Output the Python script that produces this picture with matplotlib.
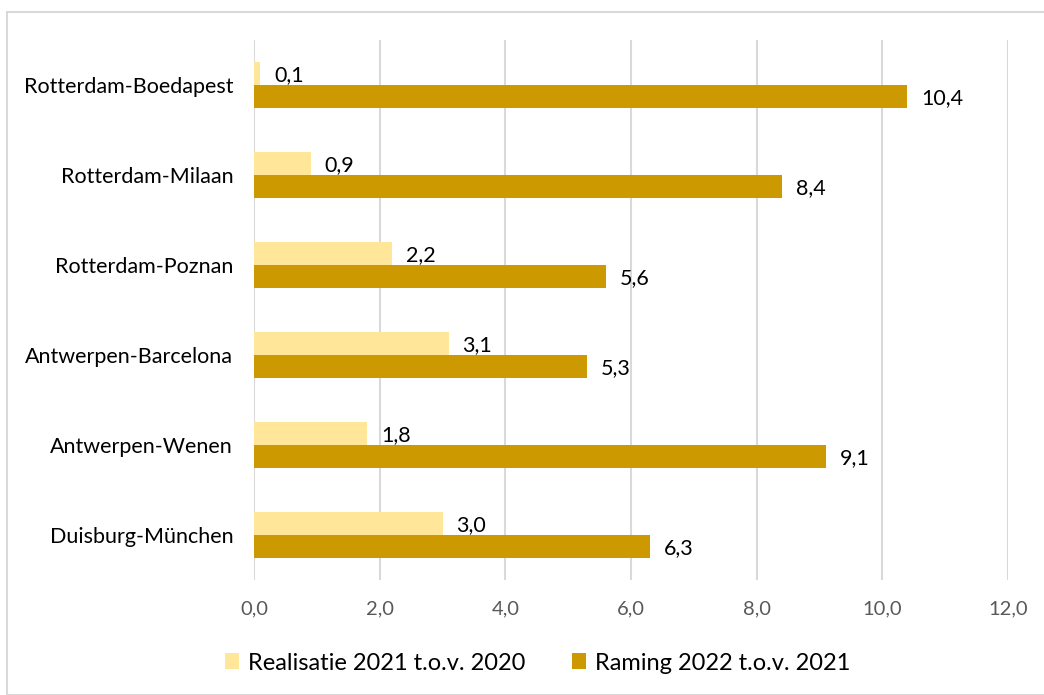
import matplotlib.pyplot as plt
import numpy as np
from matplotlib.patches import Rectangle

# corridors, top to bottom
routes = ['Rotterdam-Boedapest', 'Rotterdam-Milaan', 'Rotterdam-Poznan',
          'Antwerpen-Barcelona', 'Antwerpen-Wenen', 'Duisburg-München']
realisatie = [0.1, 0.9, 2.2, 3.1, 1.8, 3.0]
raming = [10.4, 8.4, 5.6, 5.3, 9.1, 6.3]
xticks = [0, 2, 4, 6, 8, 10, 12]

light = '#FFE699'
gold = '#CC9900'

plt.rcParams['font.family'] = ['Lato', 'DejaVu Sans']

fig = plt.figure(figsize=(10.44, 6.95), dpi=100)
ax = fig.add_axes([254 / 1044, 1 - 580 / 695, 754 / 1044, 540 / 695])

# outer frame
fig.patches.append(Rectangle((7 / 1044, 0), 1.1, 1 - 12 / 695, transform=fig.transFigure,
                             fill=False, edgecolor='#D9D9D9', linewidth=1.5))

y = np.arange(len(routes))
h = 0.255
b1 = ax.barh(y - h / 2, realisatie, height=h, color=light, label='Realisatie 2021 t.o.v. 2020')
b2 = ax.barh(y + h / 2, raming, height=h, color=gold, label='Raming 2022 t.o.v. 2021')

for bars, vals in ((b1, realisatie), (b2, raming)):
    for bar, v in zip(bars, vals):
        ax.text(v + 0.22, bar.get_y() + bar.get_height() / 2 + 0.02,
                f'{v:.1f}'.replace('.', ','), va='center', ha='left',
                fontsize=15.5, color='#000000')

ax.set_ylim(len(routes) - 0.5, -0.5)
ax.set_xlim(0, 12)
ax.set_yticks(y)
ax.set_yticklabels(routes, fontsize=15.5, color='#000000')
ax.set_xticks(xticks)
ax.set_xticklabels([f'{t:.1f}'.replace('.', ',') for t in xticks], fontsize=14.5, color='#595959')
ax.tick_params(axis='x', length=0, pad=15)
ax.tick_params(axis='y', length=0, pad=15)

ax.grid(axis='x', color='#D9D9D9', linewidth=1.5)
ax.set_axisbelow(True)
for s in ax.spines.values():
    s.set_visible(False)

fig.legend(handles=[b1, b2], loc='center', bbox_to_anchor=(0.515, 1 - 663 / 695),
           ncol=2, frameon=False, fontsize=17, handlelength=0.6, handleheight=0.65,
           handletextpad=0.35, columnspacing=2.0)

fig.savefig('out.png', dpi=100)
